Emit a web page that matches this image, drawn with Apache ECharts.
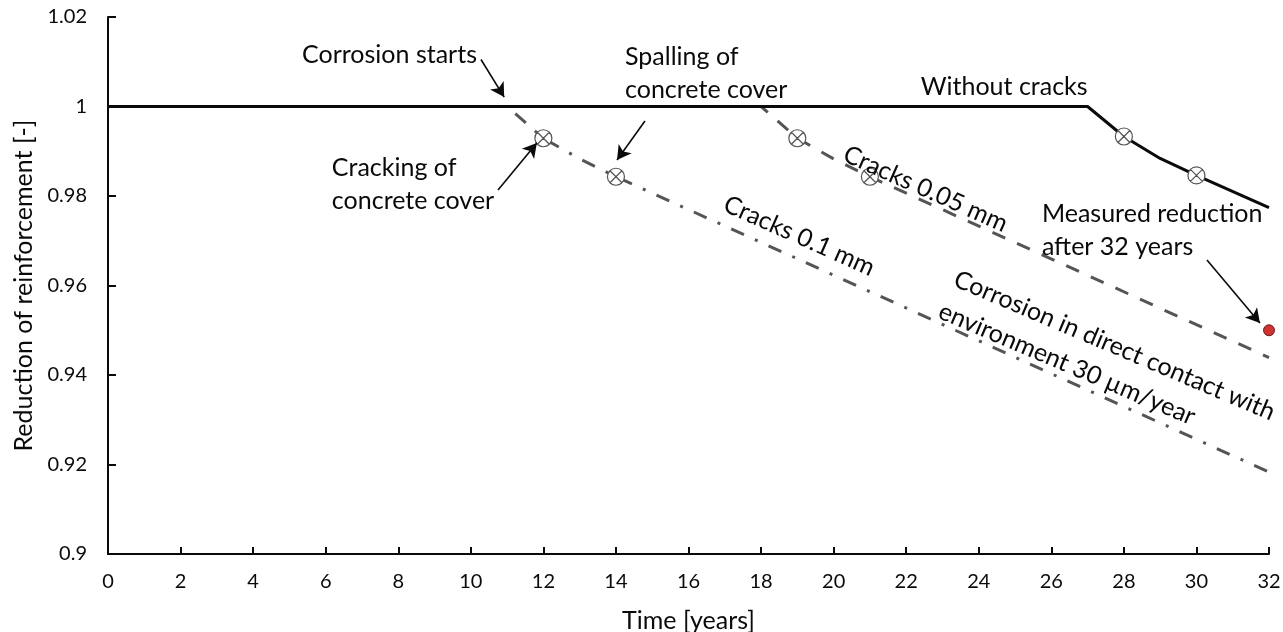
<!DOCTYPE html>
<html>
<head>
<meta charset="utf-8">
<script src="https://cdn.jsdelivr.net/npm/echarts@6/dist/echarts.min.js"></script>
<style>
  html, body { margin: 0; padding: 0; background: #ffffff; }
  #chart { width: 1283px; height: 632px; }
</style>
</head>
<body>
<div id="chart"></div>
<script>
// ---- data ---------------------------------------------------------------
// Remaining reinforcement fraction [-] over time [years]
const years01 = [0, 11, 12, 13, 14, 32];
const cracks01 = [1, 1, 0.9929, 0.9883, 0.9843, 0.9183];      // cracks 0.1 mm

const years005 = [0, 18, 19, 20, 21, 32];
const cracks005 = [1, 1, 0.9929, 0.9883, 0.9843, 0.9439];     // cracks 0.05 mm

const yearsNoCrack = [0, 27, 28, 29, 30, 32];
const noCracks = [1, 1, 0.9933, 0.9884, 0.9846, 0.9774];      // without cracks

// years where cracking / spalling of the cover is marked on each curve
const markYears01 = [12, 14];
const markYears005 = [19, 21];
const markYearsNoCrack = [28, 30];

// measured reduction after 32 years
const measuredYears = [32];
const measuredValues = [0.95];

// ---- styling ------------------------------------------------------------
const FONT = 'Lato, "Open Sans", "DejaVu Sans", sans-serif';
const INK = '#0a0a0a';
const GREY = '#555555';
// circle with a cross, used for cracking / spalling events
const crossCircle = 'path://M10,0 A10,10 0 1,1 -10,0 A10,10 0 1,1 10,0 Z M-7.07,-7.07 L7.07,7.07 M7.07,-7.07 L-7.07,7.07';

function curve(xs, ys, marks) {
  return xs.map((x, i) => ({
    value: [x, ys[i]],
    symbol: marks.includes(x) ? crossCircle : 'none',
    symbolSize: 17
  }));
}

const markerStyle = { color: '#ffffff', borderColor: GREY, borderWidth: 1.2 };

const chart = echarts.init(document.getElementById('chart'), null, { renderer: 'canvas' });

const option = {
  animation: false,
  backgroundColor: '#ffffff',
  textStyle: { fontFamily: FONT },
  grid: { left: 108, right: 14, top: 17, bottom: 78, containLabel: false, outerBoundsMode: 'none' },
  xAxis: {
    type: 'value',
    min: 0, max: 32, interval: 2,
    name: 'Time [years]',
    nameLocation: 'middle',
    nameGap: 54,
    nameTextStyle: { fontSize: 25, color: INK, fontFamily: FONT },
    axisLine: { lineStyle: { color: INK, width: 2 } },
    axisTick: { inside: true, length: 7, lineStyle: { color: INK, width: 2 } },
    axisLabel: { fontSize: 20, color: INK, margin: 18, fontFamily: FONT },
    splitLine: { show: false }
  },
  yAxis: {
    type: 'value',
    min: 0.9, max: 1.02, interval: 0.02,
    name: 'Reduction of reinforcement [-]',
    nameLocation: 'middle',
    nameGap: 72,
    nameTextStyle: { fontSize: 25, color: INK, fontFamily: FONT },
    axisLine: { show: true, lineStyle: { color: INK, width: 2 } },
    axisTick: { show: true, inside: true, length: 8, lineStyle: { color: INK, width: 2 } },
    axisLabel: {
      fontSize: 20, color: INK, margin: 21, fontFamily: FONT,
      formatter: v => String(+v.toFixed(2))
    },
    splitLine: { show: false }
  },
  series: [
    {
      name: 'Cracks 0.1 mm',
      type: 'line',
      data: curve(years01, cracks01, markYears01),
      showSymbol: true,
      lineStyle: { color: GREY, width: 3, type: [14, 12, 3, 12], cap: 'butt' },
      itemStyle: markerStyle,
      z: 2
    },
    {
      name: 'Cracks 0.05 mm',
      type: 'line',
      data: curve(years005, cracks005, markYears005),
      showSymbol: true,
      lineStyle: { color: GREY, width: 3, type: [14, 13], cap: 'butt' },
      itemStyle: markerStyle,
      z: 2
    },
    {
      name: 'Without cracks',
      type: 'line',
      data: curve(yearsNoCrack, noCracks, markYearsNoCrack),
      showSymbol: true,
      lineStyle: { color: INK, width: 3 },
      itemStyle: markerStyle,
      z: 3
    },
    {
      name: 'Measured reduction',
      type: 'scatter',
      data: measuredYears.map((x, i) => [x, measuredValues[i]]),
      symbol: 'circle',
      symbolSize: 11,
      clip: false,
      itemStyle: { color: '#c00000', borderColor: '#5a0000', borderWidth: 1 },
      z: 4,
      // pointer arrows of the annotations, in data coordinates
      markLine: {
        silent: true,
        symbol: ['none', 'arrow'],
        symbolSize: [12, 14],
        label: { show: false },
        lineStyle: { color: INK, width: 1.6, type: 'solid' },
        emphasis: { disabled: true },
        data: [
          [{ coord: [10.28, 1.0105] }, { coord: [10.92, 1.0021] }],
          [{ coord: [10.75, 0.98134] }, { coord: [11.82, 0.99184] }],
          [{ coord: [14.80, 0.99676] }, { coord: [14.03, 0.98804] }],
          [{ coord: [30.29, 0.96570] }, { coord: [31.75, 0.95162] }]
        ]
      }
    }
  ]
};

chart.setOption(option);

// ---- text annotations (anchored in data coordinates) --------------------
const notes = [
  { text: 'Corrosion starts', at: [10.17, 1.0115], align: 'right' },
  { text: 'Cracking of\nconcrete cover', at: [6.17, 0.98257], align: 'left' },
  { text: 'Spalling of\nconcrete cover', at: [14.25, 1.00748], align: 'left' },
  { text: 'Without cracks', at: [24.70, 1.00436], align: 'center' },
  { text: 'Measured reduction\nafter 32 years', at: [25.74, 0.97240], align: 'left' },
  { text: 'Cracks 0.05 mm', at: [20.31, 0.98961], align: 'left', angle: 24 },
  { text: 'Cracks 0.1 mm', at: [17.01, 0.97844], align: 'left', angle: 24 },
  { text: 'Corrosion in direct contact with', at: [23.35, 0.96168], align: 'left', angle: 23 },
  { text: 'environment 30 \u00b5m/year', at: [22.93, 0.95453], align: 'left', angle: 23 }
];

const graphic = notes.map(n => {
  const p = chart.convertToPixel({ gridIndex: 0 }, n.at);
  return {
    type: 'text',
    x: p[0],
    y: p[1],
    rotation: -(n.angle || 0) * Math.PI / 180,
    silent: true,
    z: 10,
    style: {
      text: n.text,
      fill: INK,
      font: '25px ' + FONT,
      align: n.align,
      verticalAlign: 'middle',
      lineHeight: 33
    }
  };
});

chart.setOption({ graphic: graphic });
</script>
</body>
</html>
